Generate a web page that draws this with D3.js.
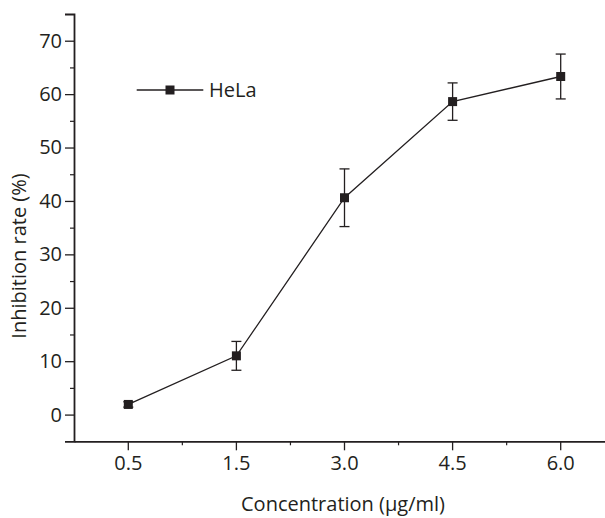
<!DOCTYPE html>
<html>
<head>
<meta charset="utf-8">
<script src="https://cdn.jsdelivr.net/npm/d3@7"></script>
<style>
  html, body { margin: 0; padding: 0; background: #fff; }
  svg { display: block; }
  text { font-family: "Open Sans", sans-serif; fill: #231f20; }
</style>
</head>
<body>
<svg id="chart" width="605" height="518"></svg>
<script>
const categories = ["0.5", "1.5", "3.0", "4.5", "6.0"];
const inhibition = [1.9, 11.0, 40.6, 58.6, 63.3];
const errors = [0.5, 2.7, 5.4, 3.5, 4.2];
const yTicks = [0, 10, 20, 30, 40, 50, 60, 70];
const yMinorTicks = [5, 15, 25, 35, 45, 55, 65];
const seriesName = "HeLa";

const ink = "#231f20";
const fs = "20px";
const svg = d3.select("#chart");

const x = d3.scaleBand().domain(categories).range([74.25, 614.75]).padding(0);
const y = d3.scaleLinear().domain([-5, 75]).range([441.3, 14]);
const cx = c => x(c) + x.bandwidth() / 2;

// Y axis
const yAxis = svg.append("g").attr("transform", "translate(74,0)")
  .call(d3.axisLeft(y).tickValues(yTicks).tickSize(9).tickPadding(3).tickFormat(d3.format("d")));
yAxis.select(".domain").attr("stroke", ink).attr("stroke-width", 1.8);
yAxis.selectAll(".tick line").attr("stroke", ink).attr("stroke-width", 1.3);
yAxis.selectAll(".tick text").style("font-size", fs).attr("fill", ink);

const yMinor = svg.append("g").attr("transform", "translate(74,0)")
  .call(d3.axisLeft(y).tickValues(yMinorTicks).tickSize(4).tickFormat(""));
yMinor.select(".domain").remove();
yMinor.selectAll(".tick line").attr("stroke", ink).attr("stroke-width", 1.2);

// X axis
const xAxis = svg.append("g").attr("transform", "translate(0,441.3)")
  .call(d3.axisBottom(x).tickSize(9).tickPadding(6).tickSizeOuter(0));
xAxis.select(".domain").attr("stroke", ink).attr("stroke-width", 1.8);
xAxis.selectAll(".tick line").attr("stroke", ink).attr("stroke-width", 1.3);
xAxis.selectAll(".tick text").style("font-size", fs).attr("fill", ink);

const xMinor = svg.append("g").attr("transform", "translate(0,441.3)");
xMinor.selectAll("line").data(categories.slice(1)).join("line")
  .attr("x1", d => x(d)).attr("x2", d => x(d))
  .attr("y1", 0).attr("y2", 4)
  .attr("stroke", ink).attr("stroke-width", 1.2);

// Axis titles
svg.append("text")
  .attr("x", 343).attr("y", 511)
  .attr("text-anchor", "middle")
  .style("font-size", fs)
  .text("Concentration (\u03bcg/ml)");

svg.append("text")
  .attr("transform", "translate(25.5,256) rotate(-90)")
  .attr("text-anchor", "middle")
  .style("font-size", fs)
  .text("Inhibition rate (%)");

// Data line
const line = d3.line().x((d, i) => cx(categories[i])).y(d => y(d));
svg.append("path").datum(inhibition)
  .attr("d", line).attr("fill", "none")
  .attr("stroke", ink).attr("stroke-width", 1.3);

// Error bars
const eb = svg.append("g");
inhibition.forEach((v, i) => {
  const px = cx(categories[i]);
  const top = y(v + errors[i]), bot = y(v - errors[i]);
  eb.append("line").attr("x1", px).attr("x2", px).attr("y1", top).attr("y2", bot)
    .attr("stroke", ink).attr("stroke-width", 1.3);
  [top, bot].forEach(yy => eb.append("line")
    .attr("x1", px - 5).attr("x2", px + 5).attr("y1", yy).attr("y2", yy)
    .attr("stroke", ink).attr("stroke-width", 1.3));
});

// Markers
const ms = 9;
svg.append("g").selectAll("rect").data(inhibition).join("rect")
  .attr("x", (d, i) => cx(categories[i]) - ms / 2)
  .attr("y", d => y(d) - ms / 2)
  .attr("width", ms).attr("height", ms)
  .attr("fill", ink);

// Legend
const lg = svg.append("g");
lg.append("line").attr("x1", 136.7).attr("x2", 203.3).attr("y1", 90).attr("y2", 90)
  .attr("stroke", ink).attr("stroke-width", 1.3);
lg.append("rect").attr("x", 170 - ms / 2).attr("y", 90 - ms / 2)
  .attr("width", ms).attr("height", ms).attr("fill", ink);
lg.append("text").attr("x", 209).attr("y", 97)
  .style("font-size", fs).text(seriesName);
</script>
</body>
</html>
